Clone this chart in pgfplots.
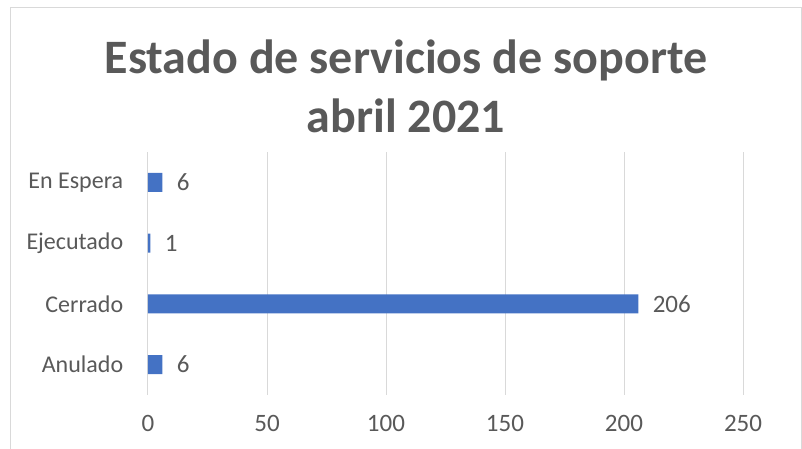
\documentclass[border=0pt]{standalone}
\usepackage{fontspec}
\setmainfont{Carlito}
\usepackage{pgfplots}
\pgfplotsset{compat=1.18}
\definecolor{barc}{HTML}{4472C4}
\definecolor{txt}{HTML}{595959}
\definecolor{gridc}{HTML}{D9D9D9}
\begin{document}
\begin{tikzpicture}[x=1pt,y=1pt]
\useasboundingbox (-148,-54) rectangle (654,395);
\draw[gridc, line width=1pt] (-137,-54) -- (-137,387) -- (653,387) -- (653,-54);
\node[anchor=base, text=txt, font=\fontsize{48}{56}\selectfont\bfseries] at (258,321) {Estado de servicios de soporte};
\node[anchor=base, text=txt, font=\fontsize{48}{56}\selectfont\bfseries] at (258,262) {abril 2021};
\begin{axis}[at={(0,0)}, anchor=south west, scale only axis,
  width=595pt, height=243pt,
  xbar, bar width=19pt,
  xmin=0, xmax=250, ymin=-0.5, ymax=3.5,
  ytick={0,1,2,3}, yticklabels={Anulado,Cerrado,Ejecutado,En Espera},
  xtick={0,50,100,150,200,250},
  xmajorgrids, major grid style={gridc, line width=1pt},
  axis lines*=left, axis line style={draw=none},
  tick style={draw=none},
  tick label style={font=\fontsize{25}{29}\selectfont, text=txt},
  /pgf/number format/assume math mode=true,
  xticklabel style={yshift=-17pt},
  yticklabel style={xshift=-17pt, font=\fontsize{24}{28}\selectfont},
  nodes near coords,
  nodes near coords style={anchor=west, xshift=11pt, font=\fontsize{25}{29}\selectfont, text=txt},
]
\addplot[draw=none, fill=barc] coordinates {(6,0) (206,1) (1,2) (6,3)};
\end{axis}
\end{tikzpicture}
\end{document}
